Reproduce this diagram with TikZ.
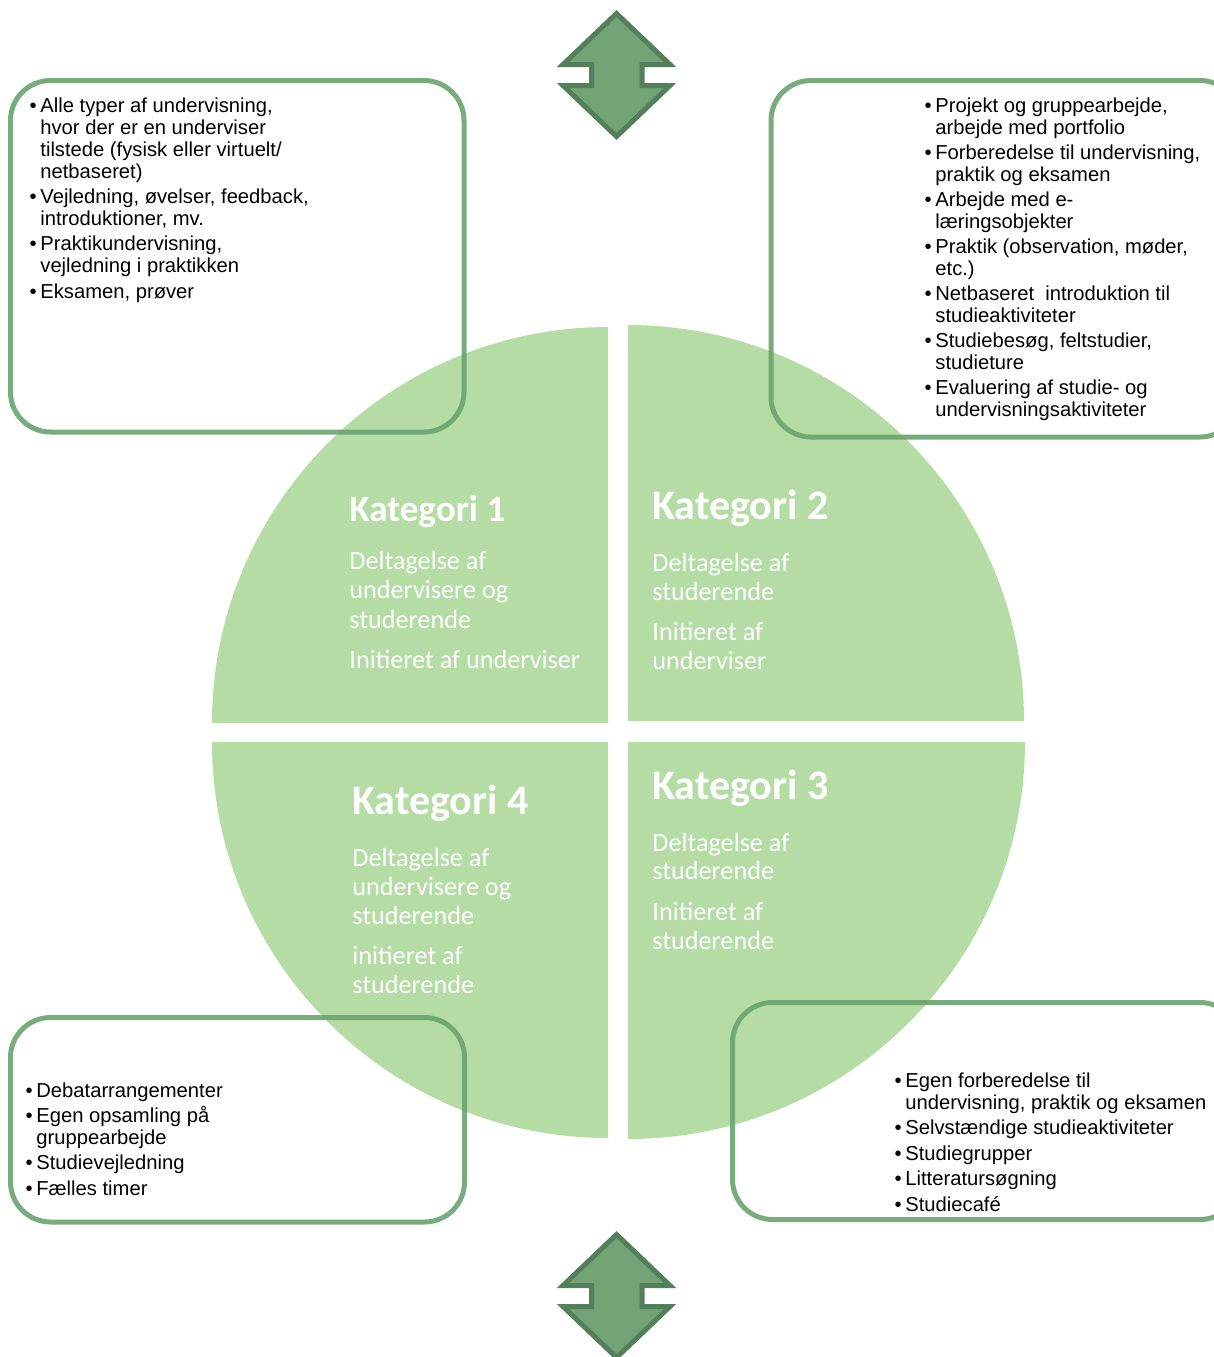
\documentclass[tikz,border=0pt]{standalone}
\usepackage{fontspec}
\setmainfont{Liberation Sans}
\newfontfamily\katfont{Carlito}
\definecolor{quadgreen}{HTML}{B5DCA5}
\definecolor{boxgreen}{HTML}{6AA36E}
\definecolor{arrowfill}{HTML}{72A476}
\definecolor{arrowline}{HTML}{53805A}
\newcommand\bul{\llap{\textbullet\hspace{1.8pt}}}
\begin{document}
\begin{tikzpicture}[x=0.5pt,y=-0.5pt,
  quadfill/.style={fill=quadgreen},
  listbox/.style={draw=boxgreen, draw opacity=0.9, line width=2.5pt, rounded corners=20pt},
  listtext/.style={anchor=base west, inner sep=0pt, align=left, font=\fontsize{10.1}{11}\selectfont},
  kattitle/.style={anchor=base west, inner sep=0pt, text=white, font=\katfont\bfseries\fontsize{21}{25}\selectfont},
  katsub/.style={anchor=base west, inner sep=0pt, align=left, text=white, font=\katfont\fontsize{13.1}{14.75}\selectfont},
  updown/.style={fill=arrowfill, draw=arrowline, line width=2.5pt, line join=miter, miter limit=10}]
\useasboundingbox (0,0) rectangle (1214,1357);
\clip (0,0) rectangle (1214,1357);
% quadrants
\fill[quadfill] (608,723) -- (212,723) arc[start angle=180, end angle=270, radius=396] -- cycle;
\fill[quadfill] (628,721) -- (628,325) arc[start angle=270, end angle=360, radius=396] -- cycle;
\fill[quadfill] (608,742) -- (212,742) arc[start angle=180, end angle=90, radius=396] -- cycle;
\fill[quadfill] (628,742) -- (1025,742) arc[start angle=0, end angle=90, radius=397] -- cycle;
% boxes
\draw[listbox] (10.5,80.5) rectangle (464,432);
\draw[listbox] (771,80.5) rectangle (1240,437);
\draw[listbox] (10.5,1017.5) rectangle (464.5,1222);
\draw[listbox] (732.5,1002.5) rectangle (1240,1219.5);
% list texts (anchored at the baseline of their last line)
\node[listtext] (tl) at (40,298) {\bul Alle typer af undervisning,\\ hvor der er en underviser\\ tilstede (fysisk eller virtuelt/\\ netbaseret)\\[1.65pt]
\bul Vejledning, øvelser, feedback,\\ introduktioner, mv.\\[1.65pt]
\bul Praktikundervisning,\\ vejledning i praktikken\\[1.65pt]
\bul Eksamen, prøver};
\node[listtext, font=\fontsize{10.1}{10.75}\selectfont] (tr) at (935,416) {\bul Projekt og gruppearbejde,\\ arbejde med portfolio\\[2pt]
\bul Forberedelse til undervisning,\\ praktik og eksamen\\[2pt]
\bul Arbejde med e-\\ læringsobjekter\\[2pt]
\bul Praktik (observation, møder,\\ etc.)\\[2pt]
\bul Netbaseret\ \ introduktion til\\ studieaktiviteter\\[2pt]
\bul Studiebesøg, feltstudier,\\ studieture\\[2pt]
\bul Evaluering af studie- og\\ undervisningsaktiviteter};
\node[listtext] (bl) at (36,1195) {\bul Debatarrangementer\\[1.65pt]
\bul Egen opsamling på\\ gruppearbejde\\[1.65pt]
\bul Studievejledning\\[1.65pt]
\bul Fælles timer};
\node[listtext] (br) at (905,1211) {\bul Egen forberedelse til\\ undervisning, praktik og eksamen\\[1.75pt]
\bul Selvstændige studieaktiviteter\\[1.75pt]
\bul Studiegrupper\\[1.75pt]
\bul Litteratursøgning\\[1.75pt]
\bul Studiecafé};
% category texts
\node[kattitle, font=\katfont\bfseries\fontsize{18.6}{22}\selectfont] (k1) at (349,521) {Kategori 1};
\node[katsub] (k1s) at (349,668) {Deltagelse af\\ undervisere og\\ studerende\\[5.1pt] Initieret af underviser};
\node[kattitle] (k2) at (652,519.5) {Kategori 2};
\node[katsub, font=\katfont\fontsize{13.1}{14.6}\selectfont] (k2s) at (652,669.3) {Deltagelse af\\ studerende\\[5pt] Initieret af\\ underviser};
\node[kattitle] (k3) at (652,799.5) {Kategori 3};
\node[katsub, font=\katfont\fontsize{13.1}{14.4}\selectfont] (k3s) at (652,949.3) {Deltagelse af\\ studerende\\[5.9pt] Initieret af\\ studerende};
\node[kattitle] (k4) at (352,814) {Kategori 4};
\node[katsub, font=\katfont\fontsize{13.1}{14.5}\selectfont] (k4s) at (352,993) {Deltagelse af\\ undervisere og\\ studerende\\[5.5pt] initieret af\\ studerende};
% up-down arrows
\draw[updown] (616.5,13.5) -- (563,64.5) -- (591.5,64.5) -- (591.5,85.5) -- (563,85.5) -- (616.5,136.5) -- (670,85.5) -- (642,85.5) -- (642,64.5) -- (670,64.5) -- cycle;
\draw[updown] (616.5,1234.5) -- (563,1285.5) -- (591.5,1285.5) -- (591.5,1306.5) -- (563,1306.5) -- (616.5,1357.5) -- (670,1306.5) -- (642,1306.5) -- (642,1285.5) -- (670,1285.5) -- cycle;
\end{tikzpicture}
\end{document}
